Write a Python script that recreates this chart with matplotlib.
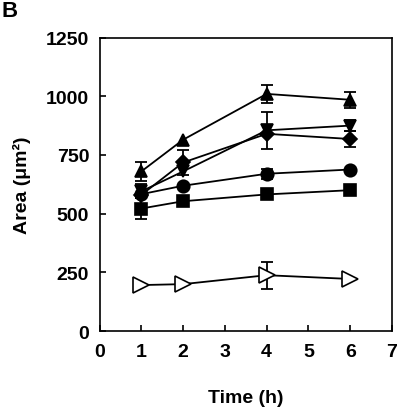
import numpy as np
from matplotlib import pyplot as plt

plt.rcParams['font.family'] = ['Liberation Sans', 'DejaVu Sans']
plt.rcParams['font.weight'] = 'bold'

time = [1, 2, 4, 6]

tri_up = [680, 815, 1010, 985]
tri_up_err = [40, 0, 40, 35]
tri_down = [595, 680, 855, 875]
tri_down_err = [30, 0, 80, 25]
diamond = [580, 718, 840, 818]
diamond_err = [0, 55, 0, 36]
circle = [583, 619, 670, 688]
circle_err = [0, 0, 22, 0]
square = [522, 553, 582, 600]
square_err = [46, 0, 0, 0]
open_tri = [196, 200, 238, 222]
open_tri_err = [0, 0, 58, 0]

xticks = [0, 1, 2, 3, 4, 5, 6, 7]
yticks = [0, 250, 500, 750, 1000, 1250]

fig = plt.figure(figsize=(4, 4.1), dpi=100)
ax = fig.add_axes([0.249, 0.19, 0.731, 0.716])

series = [
    (tri_up, tri_up_err, '^', 'black', 9),
    (tri_down, tri_down_err, 'v', 'black', 9),
    (diamond, diamond_err, 'D', 'black', 7),
    (circle, circle_err, 'o', 'black', 9),
    (square, square_err, 's', 'black', 9),
    (open_tri, open_tri_err, '>', 'white', 11.5),
]

for y, err, m, fc, ms in series:
    y = np.array(y)
    err = np.array(err)
    t = np.array(time)
    keep = err > 0
    ax.errorbar(t[keep], y[keep], yerr=err[keep], fmt='none', ecolor='black',
                elinewidth=1.3, capsize=4, capthick=1.3, zorder=1)
    ax.plot(t, y, color='black', lw=1.3, marker=m, markersize=ms,
            markerfacecolor=fc, markeredgecolor='black', markeredgewidth=1.2,
            zorder=3)

ax.set_xlim(0, 7)
ax.set_ylim(0, 1250)
ax.set_xticks(xticks)
ax.set_yticks(yticks)
ax.tick_params(direction='in', length=4, width=1.2, labelsize=14)
ax.tick_params(axis='y', pad=7.5)
ax.tick_params(axis='x', pad=8.5)
for s in ax.spines.values():
    s.set_linewidth(1.2)

ax.set_xlabel('Time (h)', fontsize=14, fontweight='bold', labelpad=21)
ax.set_ylabel('Area (μm²)', fontsize=14, fontweight='bold', labelpad=11)
fig.text(0.003, 0.997, 'B', fontsize=16, fontweight='bold', va='top', ha='left')

fig.savefig('out.png', dpi=100)
